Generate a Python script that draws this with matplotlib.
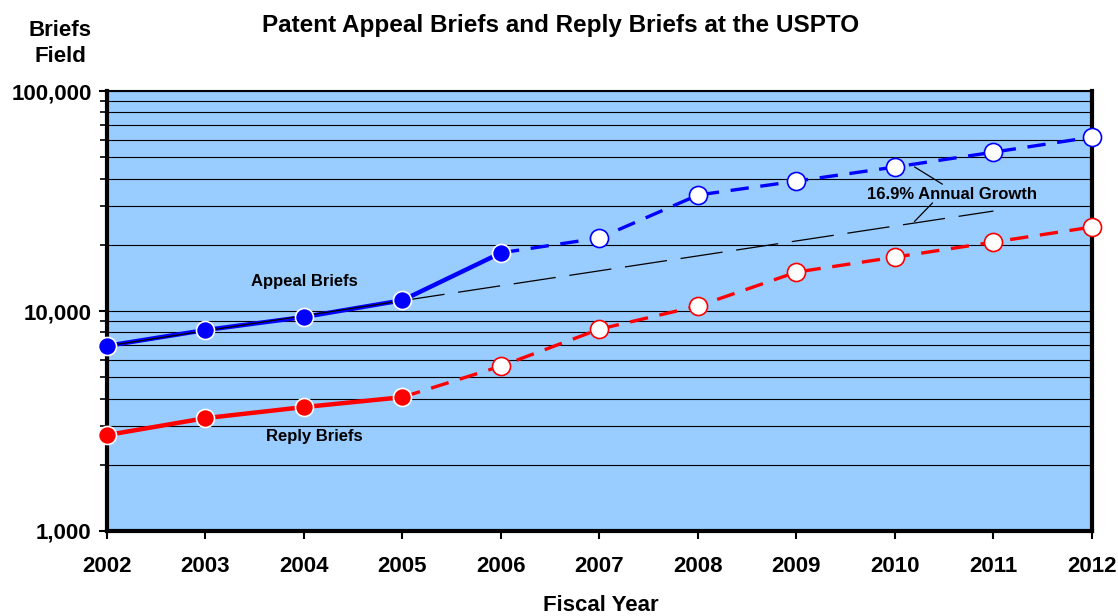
import matplotlib
matplotlib.use("Agg")
import matplotlib.pyplot as plt
from matplotlib.ticker import FixedLocator, FuncFormatter, LogLocator, NullFormatter

plt.rcParams["font.family"] = ["Liberation Sans", "DejaVu Sans"]
plt.rcParams["font.weight"] = "bold"

YEARS = [2002, 2003, 2004, 2005, 2006, 2007, 2008, 2009, 2010, 2011, 2012]
APPEAL = [6950, 8200, 9400, 11200, 18400, 21500, 33700, 39000, 45200, 52800, 61800]
REPLY = [2730, 3260, 3660, 4060, 5620, 8280, 10540, 15040, 17590, 20590, 24100]
# number of actual (filled) points per series, the rest are projections
N_APPEAL_ACTUAL = 5
N_REPLY_ACTUAL = 4

TREND_YEARS = [2002, 2005, 2011]
TREND_VALUES = [6950, 11150, 28500]

BLUE = "#0000FF"
RED = "#FF0000"
BG = "#99CCFF"

fig = plt.figure(figsize=(11.18, 6.16), dpi=100)
ax = fig.add_axes([0.0957, 0.138, 0.881, 0.714])
ax.set_facecolor(BG)
ax.set_yscale("log")
ax.set_ylim(1000, 100000)
ax.set_xlim(2002, 2012)

ax.yaxis.set_major_locator(LogLocator(base=10))
ax.yaxis.set_minor_locator(LogLocator(base=10, subs=range(2, 10)))
ax.yaxis.set_major_formatter(FuncFormatter(lambda v, p: f"{int(round(v)):,}"))
ax.yaxis.set_minor_formatter(NullFormatter())
ax.xaxis.set_major_locator(FixedLocator(YEARS))
ax.yaxis.grid(True, which="both", color="black", linewidth=0.8)
ax.set_axisbelow(True)

for name, side_lw in [("left", 3), ("bottom", 3), ("right", 3), ("top", 1.5)]:
    ax.spines[name].set_linewidth(side_lw)
    ax.spines[name].set_color("black")
ax.tick_params(axis="both", which="both", direction="out", length=6, width=1.5,
               labelsize=16, pad=5)
ax.tick_params(axis="y", which="minor", length=5, width=1.2)
ax.tick_params(axis="x", pad=12)
for lab in ax.get_xticklabels() + ax.get_yticklabels():
    lab.set_fontweight("bold")

ms = 13
series = [(APPEAL, BLUE, N_APPEAL_ACTUAL), (REPLY, RED, N_REPLY_ACTUAL)]
for vals, col, n in series:
    ax.plot(YEARS[:n], vals[:n], color=col, linewidth=3.2, zorder=3,
            solid_capstyle="butt")
    ax.plot(YEARS[n - 1:], vals[n - 1:], color=col, linewidth=2.4,
            dashes=(5.5, 3.5), zorder=3)

ax.plot(TREND_YEARS[:2], TREND_VALUES[:2], color="black", linewidth=0.9, zorder=4)
ax.plot(TREND_YEARS[1:], TREND_VALUES[1:], color="black", linewidth=0.9,
        dashes=(34, 11), zorder=4)

for vals, col, n in series:
    ax.plot(YEARS[:n], vals[:n], linestyle="none", marker="o",
            markersize=ms, markerfacecolor=col, markeredgecolor="white",
            markeredgewidth=1.2, zorder=5, clip_on=False)
    ax.plot(YEARS[n:], vals[n:], linestyle="none", marker="o",
            markersize=ms, markerfacecolor="white", markeredgecolor=col,
            markeredgewidth=1.2, zorder=5, clip_on=False)

ax.text(2004.0, 13600, "Appeal Briefs", fontsize=12, fontweight="bold",
        ha="center", va="center")
ax.text(2004.1, 2700, "Reply Briefs", fontsize=12, fontweight="bold",
        ha="center", va="center", zorder=6)

# growth annotation with its two leader lines
ax.text(2010.58, 34000, "16.9% Annual Growth", fontsize=12, fontweight="bold",
        ha="center", va="center", zorder=6)
ax.plot([2010.2, 2010.48], [45200, 37800], color="black", linewidth=0.9, zorder=6)
ax.plot([2010.38, 2010.2], [31000, 25600], color="black", linewidth=0.9, zorder=6)

fig.text(0.5015, 0.959, "Patent Appeal Briefs and Reply Briefs at the USPTO",
         fontsize=17.5, fontweight="bold", ha="center", va="center")
fig.text(0.0537, 0.951, "Briefs", fontsize=16, fontweight="bold", ha="center", va="center")
fig.text(0.0537, 0.909, "Field", fontsize=16, fontweight="bold", ha="center", va="center")
fig.text(0.537, 0.017, "Fiscal Year", fontsize=16, fontweight="bold",
         ha="center", va="center")

fig.savefig("out.png", dpi=100)
